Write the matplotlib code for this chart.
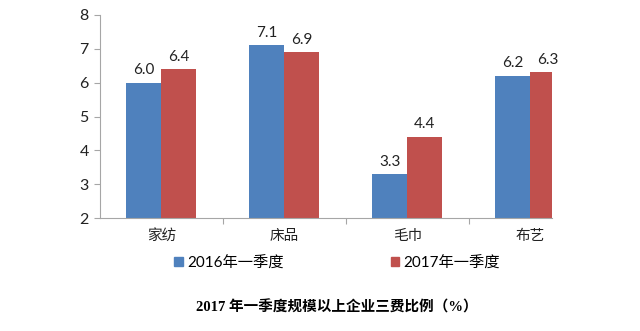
import matplotlib.pyplot as plt
import numpy as np
from matplotlib.patches import Patch

plt.rcParams['font.family'] = ['Lato', 'Noto Sans CJK SC', 'DejaVu Sans']

# 三费比例数据
categories = ['家纺', '床品', '毛巾', '布艺']
q1_2016 = [6.0, 7.1, 3.3, 6.2]
q1_2017 = [6.4, 6.9, 4.4, 6.3]
series_names = ['2016年一季度', '2017年一季度']
y_ticks = [2, 3, 4, 5, 6, 7, 8]

blue = '#4F81BD'
red = '#C0504D'
grey = '#A6A6A6'

fig = plt.figure(figsize=(6.4, 3.31), dpi=100)
ax = fig.add_axes([0.156, 0.341, 0.7065, 0.614])

x = np.arange(len(categories))
w = 0.285
b1 = ax.bar(x - w / 2, q1_2016, w, color=blue)
b2 = ax.bar(x + w / 2, q1_2017, w, color=red)

for bars, vals in [(b1, q1_2016), (b2, q1_2017)]:
    for rect, v in zip(bars, vals):
        ax.annotate(f'{v:.1f}', (rect.get_x() + rect.get_width() / 2, v),
                    xytext=(0, 4), textcoords='offset points',
                    ha='center', va='bottom', fontsize=11, color='#222222')

ax.set_ylim(2, 8)
ax.set_xlim(-0.5, 3.175)
ax.set_yticks(y_ticks)
ax.tick_params(axis='y', length=4, color=grey, labelsize=11.5, pad=4, labelcolor='#222222')

# 分类刻度在组间，标签放在组中心
ax.set_xticks([0.5, 1.5, 2.5])
ax.set_xticklabels([])
ax.tick_params(axis='x', length=4, color=grey)
for xi, name in zip(x, categories):
    ax.text(xi, -0.055, name, transform=ax.get_xaxis_transform(),
            ha='center', va='top', fontsize=10.5, color='#222222')

for s in ['top', 'right']:
    ax.spines[s].set_visible(False)
ax.spines['left'].set_color(grey)
ax.spines['bottom'].set_color(grey)

handles = [Patch(color=blue), Patch(color=red)]
fig.legend(handles, series_names, loc='center', bbox_to_anchor=(0.527, 0.205),
           ncol=2, frameon=False, fontsize=11, handlelength=0.55, handleheight=0.55,
           handletextpad=0.3, columnspacing=7.0)

fig.text(0.527, 0.072, '2017 年一季度规模以上企业三费比例（%）', ha='center', va='center',
         fontsize=10.5, fontweight='bold', family=['Liberation Serif', 'Noto Sans CJK SC'])

fig.savefig('out.png', dpi=100)
